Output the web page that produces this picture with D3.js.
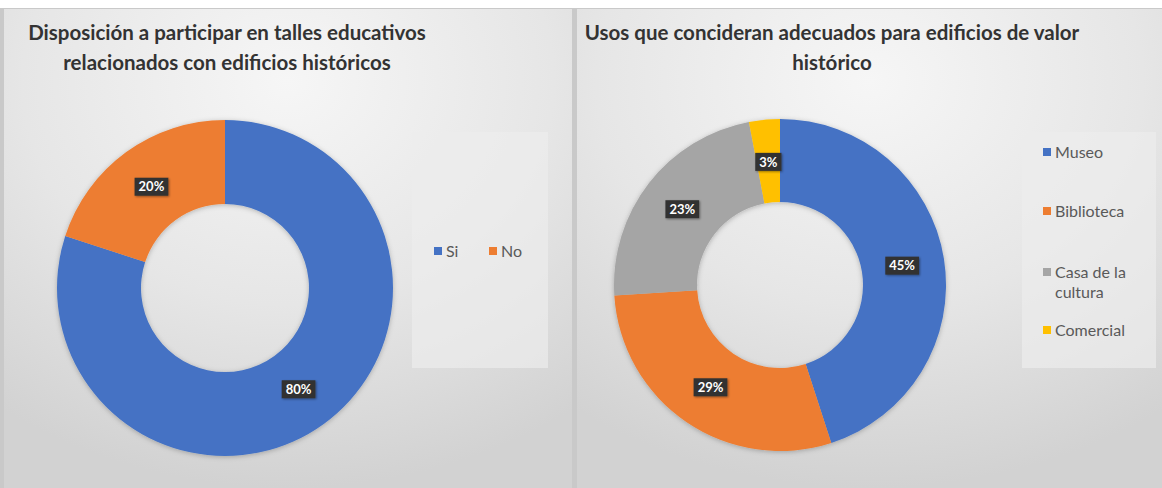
<html>
<head>
<meta charset="utf-8">
<style>
  body { margin: 0; background: #ffffff; overflow: hidden; }
  svg { display: block; font-family: Lato, "Noto Sans", sans-serif; }
</style>
</head>
<body>
<svg id="chart"></svg>
<script src="https://d3js.org/d3.v7.min.js"></script>
<script>
    // data
    const leftTitle = ["Disposición a participar en talles educativos", "relacionados con edificios históricos"];
    const leftCats = ["Si", "No"];
    const leftVals = [80, 20];
    const leftColors = ["#4472c4", "#ed7d31"];

    const rightTitle = ["Usos que concideran adecuados para edificios de valor", "histórico"];
    const rightCats = ["Museo", "Biblioteca", "Casa de la cultura", "Comercial"];
    const rightVals = [45, 29, 23, 3];
    const rightColors = ["#4472c4", "#ed7d31", "#a5a5a5", "#ffc000"];

    var width = 1162, height = 488;
    var svg = d3.select("#chart").attr("width", width).attr("height", height);

    var defs = svg.append("defs");
    var grad = defs.append("radialGradient").attr("id", "bg")
        .attr("cx", "50%").attr("cy", "15%").attr("r", "85%");
    grad.append("stop").attr("offset", "0%").attr("stop-color", "#f6f6f6");
    grad.append("stop").attr("offset", "55%").attr("stop-color", "#e6e6e6");
    grad.append("stop").attr("offset", "100%").attr("stop-color", "#d2d2d2");

    var sh = defs.append("filter").attr("id", "shadow")
        .attr("x", "-20%").attr("y", "-20%").attr("width", "140%").attr("height", "140%");
    sh.append("feDropShadow").attr("dx", 0).attr("dy", 1).attr("stdDeviation", 2.5)
        .attr("flood-color", "#000").attr("flood-opacity", 0.25);

    var lsh = defs.append("filter").attr("id", "lblshadow")
        .attr("x", "-30%").attr("y", "-30%").attr("width", "160%").attr("height", "160%");
    lsh.append("feDropShadow").attr("dx", 1).attr("dy", 1).attr("stdDeviation", 1)
        .attr("flood-color", "#000").attr("flood-opacity", 0.4);

    // top white strip + panel backgrounds
    svg.append("rect").attr("x", 0).attr("y", 0).attr("width", width).attr("height", height).attr("fill", "#c9c9c9");
    svg.append("rect").attr("x", 0).attr("y", 0).attr("width", width).attr("height", 8).attr("fill", "#ffffff");

    function panel(x0, w, title, cats, vals, colors, cfg) {
        var g = svg.append("g");
        g.append("rect").attr("x", x0).attr("y", 9).attr("width", w).attr("height", height - 9)
            .attr("fill", "url(#bg)");

        g.selectAll("text.title")
            .data(title)
            .enter().append("text")
            .attr("class", "title")
            .attr("x", cfg.titleX)
            .attr("y", (d, i) => 40 + i * 30)
            .attr("text-anchor", "middle")
            .attr("font-size", 20.5)
            .attr("font-weight", "bold")
            .attr("fill", "#333333")
            .text(d => d);

        // legend box
        g.append("rect").attr("x", cfg.legX).attr("y", 132).attr("width", cfg.legW).attr("height", 236)
            .attr("fill", "#ededed").attr("opacity", 0.7);

        var pie = d3.pie().sort(null).value(d => d);
        var arcs = pie(vals);
        var arc = d3.arc().innerRadius(cfg.r * 0.5).outerRadius(cfg.r);
        var labelArc = d3.arc().innerRadius(cfg.r * 0.745).outerRadius(cfg.r * 0.745);

        var donut = g.append("g").attr("transform", "translate(" + cfg.cx + "," + cfg.cy + ")");
        donut.append("g").attr("filter", "url(#shadow)")
            .selectAll("path")
            .data(arcs)
            .enter().append("path")
            .attr("d", arc)
            .attr("fill", (d, i) => colors[i]);

        var lbl = donut.selectAll("g.lbl")
            .data(arcs)
            .enter().append("g")
            .attr("class", "lbl")
            .attr("transform", d => "translate(" + labelArc.centroid(d) + ")");
        var box = lbl.append("rect").attr("fill", "#333333").attr("filter", "url(#lblshadow)");
        var txt = lbl.append("text")
            .attr("text-anchor", "middle")
            .attr("dy", "0.36em")
            .attr("font-size", 13)
            .attr("font-weight", "bold")
            .attr("fill", "#ffffff")
            .text(d => d.data + "%");
        txt.each(function(d, i) {
            var tw = this.getComputedTextLength();
            d3.select(box.nodes()[i])
                .attr("x", -tw / 2 - 4).attr("y", -9)
                .attr("width", tw + 8).attr("height", 18);
        });

        return g;
    }

    var left = panel(4, 568, leftTitle, leftCats, leftVals, leftColors,
        {titleX: 227, legX: 412, legW: 136, cx: 225, cy: 288, r: 168});
    var right = panel(577, 585, rightTitle, rightCats, rightVals, rightColors,
        {titleX: 832, legX: 1022, legW: 134, cx: 780, cy: 285, r: 166});

    // left legend (horizontal)
    var lx = d3.scalePoint().domain(leftCats).range([438, 493]);
    var lg = left.selectAll("g.leg").data(leftCats).enter().append("g")
        .attr("class", "leg")
        .attr("transform", d => "translate(" + lx(d) + ",251)");
    lg.append("rect").attr("x", -4).attr("y", -4).attr("width", 8).attr("height", 8)
        .attr("fill", (d, i) => leftColors[i]);
    lg.append("text").attr("x", 8).attr("dy", "0.35em").attr("font-size", 16)
        .attr("fill", "#595959").text(d => d);

    // right legend (vertical)
    var ry = d3.scaleOrdinal().domain(rightCats).range([152, 211, 272, 330]);
    var rg = right.selectAll("g.leg").data(rightCats).enter().append("g")
        .attr("class", "leg")
        .attr("transform", d => "translate(1047," + ry(d) + ")");
    rg.append("rect").attr("x", -4).attr("y", -4).attr("width", 8).attr("height", 8)
        .attr("fill", (d, i) => rightColors[i]);
    rg.append("text").attr("x", 8).attr("dy", "0.35em").attr("font-size", 16)
        .attr("fill", "#595959")
        .each(function(d) {
            var t = d3.select(this);
            var parts = d === "Casa de la cultura" ? ["Casa de la", "cultura"] : [d];
            parts.forEach((p, j) => {
                t.append("tspan").attr("x", 8).attr("dy", j === 0 ? "0.35em" : "1.3em").text(p);
            });
        });
</script>
</body>
</html>
